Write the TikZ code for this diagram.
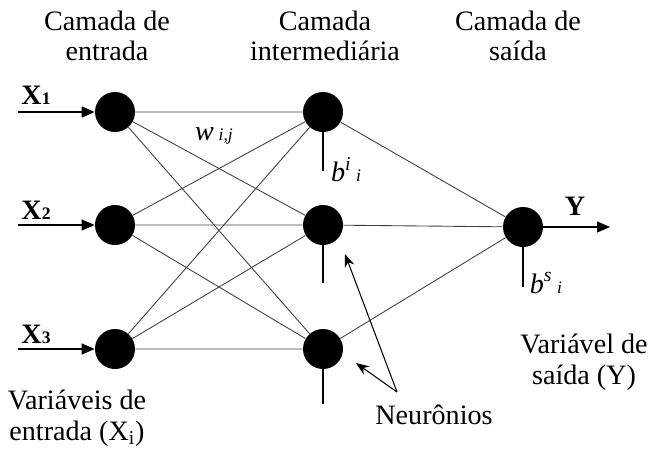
\documentclass[tikz,border=0pt]{standalone}
\usepackage{fontspec}
\setmainfont{Liberation Serif}
\usetikzlibrary{arrows.meta,positioning}

\begin{document}
\begin{tikzpicture}[
  x=0.02cm, y=-0.02cm,
  font=\fontsize{16}{17.5}\selectfont,
  neuron/.style={circle, fill=black, minimum size=40*0.02cm, inner sep=0pt},
  conn/.style={draw=black!75, line width=0.5pt},
  inarrow/.style={-{Triangle[length=2.6mm, width=2.2mm]}, line width=0.7pt},
  pointer/.style={-{Stealth[length=2.6mm, width=2mm]}, line width=0.6pt},
  bias/.style={line width=0.8pt},
  title/.style={align=center}
]
\useasboundingbox (0,0) rectangle (652,450);

% neurons
\node[neuron] (i1) at (115,112) {};
\node[neuron] (i2) at (115,225) {};
\node[neuron] (i3) at (115,349) {};
\node[neuron] (h1) at (323,112) {};
\node[neuron] (h2) at (323,225) {};
\node[neuron] (h3) at (323,349) {};
\node[neuron] (o) at (523,227) {};

% layer titles
\node[title] (tin) at (107,36) {Camada de\\entrada};
\node[title] (thid) at (325,36) {Camada\\intermediária};
\node[title] (tout) at (518,36) {Camada de\\saída};

% inputs
\coordinate (x1s) at (18,112);
\coordinate (x2s) at (18,225);
\coordinate (x3s) at (18,349);
\draw[inarrow] (x1s) -- (i1);
\draw[inarrow] (x2s) -- (i2);
\draw[inarrow] (x3s) -- (i3);
\node (lx1) at (36,95) {\textbf{X}{\fontsize{10}{10}\selectfont\textbf{1}}};
\node (lx2) at (36,210) {\textbf{X}{\fontsize{10}{10}\selectfont\textbf{2}}};
\node (lx3) at (36,334) {\textbf{X}{\fontsize{10}{10}\selectfont\textbf{3}}};

% weights input -> hidden
\draw[conn] (i1) -- (h1) (i1) -- (h2) (i1) -- (h3);
\draw[conn] (i2) -- (h1) (i2) -- (h2) (i2) -- (h3);
\draw[conn] (i3) -- (h1) (i3) -- (h2) (i3) -- (h3);
% weights hidden -> output
\draw[conn] (h1) -- (o) (h2) -- (o) (h3) -- (o);
\node (w) at (214,136) {\textit{w}\,{\fontsize{10}{10}\selectfont\textit{i,j}}};

% biases
\coordinate (bh1) at (323,171);
\coordinate (bh2) at (323,283);
\coordinate (bh3) at (323,404);
\coordinate (bo) at (523,287);
\draw[bias] (h1) -- (bh1);
\draw[bias] (h2) -- (bh2);
\draw[bias] (h3) -- (bh3);
\draw[bias] (o) -- (bo);
\node (lbh) at (346,170) {\textit{b}\textsuperscript{\textit{i}}\,{\fontsize{10}{10}\selectfont\textit{i}}};
\node (lbo) at (546,283) {\textit{b}\textsuperscript{\textit{s}}\,{\fontsize{10}{10}\selectfont\textit{i}}};

% output
\coordinate (yend) at (610,227);
\draw[inarrow] (o) -- (yend);
\node (ly) at (575,206) {\textbf{Y}};

% captions
\node[title] (cin) at (77,418) {Variáveis de\\entrada (X\textsubscript{i})};
\node[title] (cout) at (584,362) {Variável de\\saída (Y)};
\node (neu) at (434,415) {Neurônios};
\coordinate (pt) at (397,392);
\coordinate (p1) at (345,254);
\coordinate (p2) at (356,363);
\draw[pointer] (pt) -- (p1);
\draw[pointer] (pt) -- (p2);

\end{tikzpicture}
\end{document}
